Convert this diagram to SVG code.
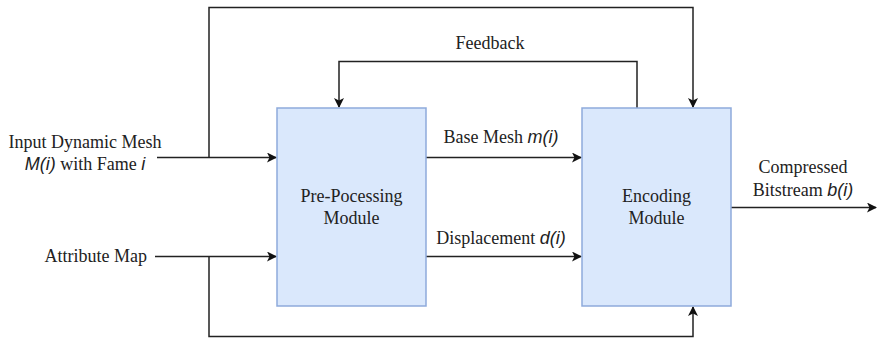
<svg xmlns="http://www.w3.org/2000/svg" width="879" height="345" viewBox="0 0 879 345">
<style>
  .box { fill: #dae8fc; stroke: #8eaadb; stroke-width: 1.5; }
  .ln { fill: none; stroke: #222; stroke-width: 1.5; }
  text { font-family: "Liberation Serif", "Times New Roman", Times, "DejaVu Serif", "Noto Serif", serif; font-size: 18px; fill: #222; }
  tspan.it { font-family: "Liberation Sans", Arial, "DejaVu Sans", sans-serif; font-style: italic; }
</style>
<defs>
  <marker id="arr" viewBox="0 0 10 10" refX="9" refY="5" markerWidth="10" markerHeight="10" markerUnits="userSpaceOnUse" orient="auto">
    <path d="M0,0 L10,5 L0,10 L2.5,5 Z" fill="#111"/>
  </marker>
</defs>
<rect width="879" height="345" fill="#fff"/>
<g id="connectors">
  <path class="ln" d="M157,157.5 H276" marker-end="url(#arr)"/>
  <path class="ln" d="M155,256.5 H276" marker-end="url(#arr)"/>
  <path class="ln" d="M209,157.5 V7.5 H693 V107" marker-end="url(#arr)"/>
  <path class="ln" d="M209,256.5 V336.5 H693 V307" marker-end="url(#arr)"/>
  <path class="ln" d="M637,108 V61.5 H339 V107" marker-end="url(#arr)"/>
  <path class="ln" d="M426,157.5 H581" marker-end="url(#arr)"/>
  <path class="ln" d="M426,256.5 H581" marker-end="url(#arr)"/>
  <path class="ln" d="M731,207.5 H876" marker-end="url(#arr)"/>
</g>
<g id="preprocessing">
  <rect class="box" x="277" y="108" width="149" height="198"/>
  <text x="351.5" y="202" text-anchor="middle">Pre-Pocessing</text>
  <text x="351.5" y="224" text-anchor="middle">Module</text>
</g>
<g id="encoding">
  <rect class="box" x="582" y="108" width="149" height="198"/>
  <text x="656.5" y="202" text-anchor="middle">Encoding</text>
  <text x="656.5" y="224" text-anchor="middle">Module</text>
</g>
<g id="labels">
  <text x="85" y="148" text-anchor="middle">Input Dynamic Mesh</text>
  <text x="85" y="170" text-anchor="middle"><tspan class="it">M(i)</tspan> with Fame <tspan class="it">i</tspan></text>
  <text x="147" y="262" text-anchor="end">Attribute Map</text>
  <text x="490" y="49" text-anchor="middle">Feedback</text>
  <text x="501" y="143" text-anchor="middle">Base Mesh <tspan class="it">m(i)</tspan></text>
  <text x="501" y="244" text-anchor="middle">Displacement <tspan class="it">d(i)</tspan></text>
  <text x="803" y="173" text-anchor="middle">Compressed</text>
  <text x="803" y="196" text-anchor="middle">Bitstream <tspan class="it">b(i)</tspan></text>
</g>
</svg>
